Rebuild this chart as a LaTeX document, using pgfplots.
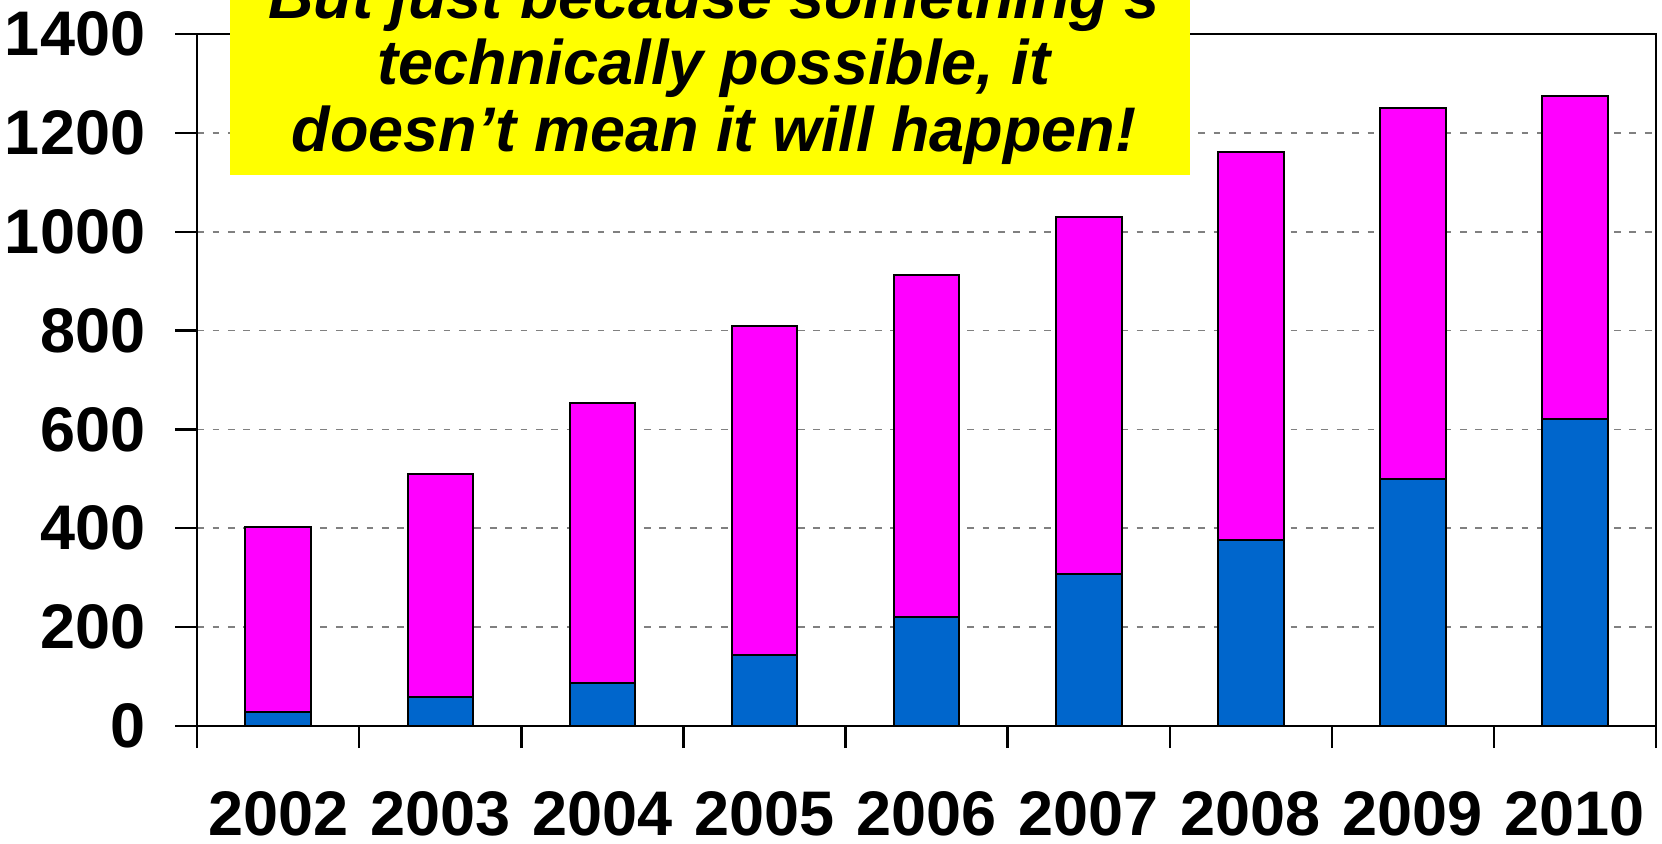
\documentclass[border=0pt]{standalone}
\usepackage{pgfplots}
\pgfplotsset{compat=1.18}
\usepackage{fontspec}
\setmainfont{Liberation Sans}
\definecolor{barblue}{RGB}{0,102,204}
\definecolor{barmag}{RGB}{255,0,255}
\definecolor{gridgray}{RGB}{128,128,128}
\definecolor{boxyellow}{RGB}{255,255,0}
\begin{document}
\begin{tikzpicture}[x=1pt,y=1pt]
\useasboundingbox (0,0) rectangle (831,421.5);
\clip (0,0) rectangle (831,421.5);
\begin{axis}[
  at={(98.6pt,58.5pt)}, anchor=south west,
  scale only axis, width=729.4pt, height=346pt,
  xmin=-0.5, xmax=8.5, ymin=0, ymax=1400,
  ybar stacked, bar width=0.405,
  xtick={-0.5,0.5,...,8.5},
  x tick label as interval,
  xticklabels={2002,2003,2004,2005,2006,2007,2008,2009,2010},
  ytick={0,200,...,1400},
  yticklabels={0,200,400,600,800,1000,1200,1400},
  xtick pos=left, ytick pos=left,
  tick align=outside, major tick length=11pt,
  tick style={black, line width=1.2pt},
  axis line style={black, line width=1.3pt},
  ymajorgrids,
  grid style={gridgray, line width=0.8pt, dash pattern=on 3.4pt off 4.3pt},
  ticklabel style={font=\fontsize{31.5}{36}\selectfont\bfseries},
  yticklabel style={xshift=-11.5pt},
  xticklabel style={inner sep=0pt, yshift=-21.5pt},
]
\addplot[fill=barblue, draw=black, line width=1pt] coordinates {
  (0,28) (1,58) (2,88) (3,144) (4,221) (5,307) (6,377) (7,500) (8,622)};
\addplot[fill=barmag, draw=black, line width=1pt] coordinates {
  (0,375) (1,452) (2,566) (3,666) (4,692) (5,722) (6,785) (7,750) (8,652)};
\end{axis}
\fill[boxyellow] (115,334) rectangle (595,440);
\begin{scope}[every node/.style={anchor=base, inner sep=0pt, font=\fontsize{31.5}{36}\selectfont\bfseries\itshape}]
\node at (357,412) {But just because something’s};
\node at (357,379) {technically possible, it};
\node at (357,345.5) {doesn’t mean it will happen!};
\end{scope}
\end{tikzpicture}
\end{document}
